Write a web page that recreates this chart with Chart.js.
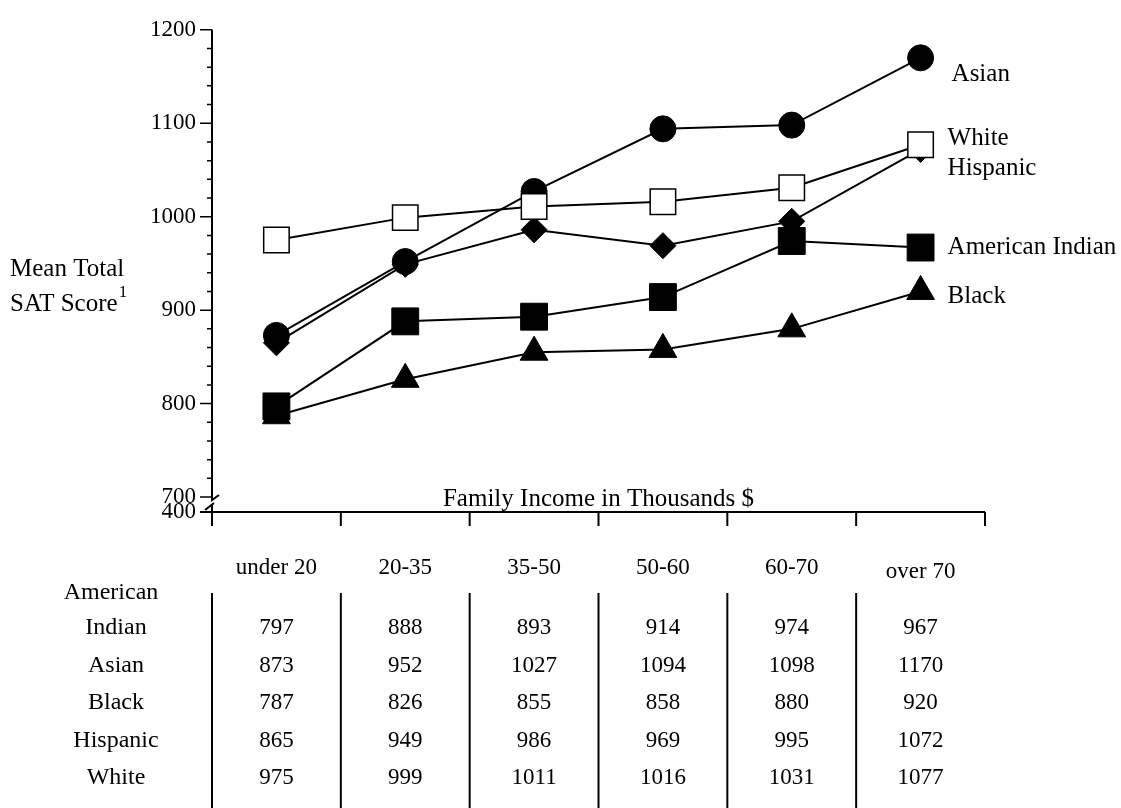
<!DOCTYPE html>
<html>
<head>
<meta charset="utf-8">
<script src="https://cdn.jsdelivr.net/npm/chart.js@4/dist/chart.umd.min.js"></script>
<style>
  html, body { margin: 0; padding: 0; background: #fff; }
  #wrap { width: 1121px; height: 808px; }
</style>
</head>
<body>
<div id="wrap"><canvas id="myChart" width="1121" height="808"></canvas></div>
<script>
// income brackets (x categories)
const categories = ['under 20', '20-35', '35-50', '50-60', '60-70', 'over 70'];

// mean total SAT score per group
const americanIndian = [797, 888, 893, 914, 974, 967];
const asian = [873, 952, 1027, 1094, 1098, 1170];
const black = [787, 826, 855, 858, 880, 920];
const hispanic = [865, 949, 986, 969, 995, 1072];
const white = [975, 999, 1011, 1016, 1031, 1077];

// y axis labels, plus the "400" shown below the axis break
const yMajorTicks = [700, 800, 900, 1000, 1100, 1200];
const yBreakLabel = '400';

// table row labels (American Indian wraps onto two lines)
const rowLabels = [['American', 'Indian'], ['Asian'], ['Black'], ['Hispanic'], ['White']];
const rowValues = [americanIndian, asian, black, hispanic, white];

const FONT = "'Liberation Serif', 'Times New Roman', serif";
const yMin = 684; // lets the broken baseline sit a little under 700

function font(size) { return size + 'px ' + FONT; }

const decor = {
  id: 'decor',
  afterDraw(chart) {
    const ctx = chart.ctx;
    const xs = chart.scales.x;
    const ys = chart.scales.y;
    const left = chart.chartArea.left;
    const right = chart.chartArea.right;
    const base = chart.chartArea.bottom;
    const band = xs.getPixelForValue(1) - xs.getPixelForValue(0);
    const firstEdge = xs.getPixelForValue(0) - band / 2;

    ctx.save();
    ctx.strokeStyle = '#000';
    ctx.fillStyle = '#000';
    ctx.lineWidth = 2;

    // y axis, broken just under 700
    const y700 = ys.getPixelForValue(700);
    ctx.beginPath();
    ctx.moveTo(left, ys.getPixelForValue(1200));
    ctx.lineTo(left, y700 + 3);
    ctx.lineTo(left + 7, y700 - 2);
    ctx.moveTo(left - 7, base - 2);
    ctx.lineTo(left + 2, base - 9);
    ctx.moveTo(left, base - 7);
    ctx.lineTo(left, base + 14);
    ctx.stroke();

    // y ticks: long every 100, short every 20
    ctx.lineWidth = 1.5;
    ctx.beginPath();
    for (let v = 700; v <= 1200; v += 20) {
      const y = ys.getPixelForValue(v);
      const len = v % 100 === 0 ? 12 : 5;
      ctx.moveTo(left - len, y);
      ctx.lineTo(left, y);
    }
    ctx.stroke();

    // x axis at the "400" line, ticks down at bracket edges
    ctx.lineWidth = 2;
    ctx.beginPath();
    ctx.moveTo(left - 12, base);
    ctx.lineTo(right, base);
    for (let i = 0; i <= categories.length; i++) {
      const x = firstEdge + i * band;
      ctx.moveTo(x, base);
      ctx.lineTo(x, base + 14);
    }
    ctx.stroke();

    ctx.textBaseline = 'middle';

    // x axis title sits above the baseline
    ctx.font = font(25);
    ctx.textAlign = 'center';
    ctx.fillText('Family Income in Thousands $', (left + right) / 2, base - 13);

    // y axis title with superscript
    ctx.textAlign = 'left';
    ctx.fillText('Mean Total', 10, 269);
    ctx.fillText('SAT Score', 10, 304);
    const w = ctx.measureText('SAT Score').width;
    ctx.font = font(17);
    ctx.fillText('1', 10 + w + 1, 293);

    // labels at line ends
    ctx.font = font(25);
    const endLabels = [
      { text: ['Asian'], data: asian, dx: 31, dy: 17 },
      { text: ['White', 'Hispanic'], data: white, dx: 27, dy: -6 },
      { text: ['American Indian'], data: americanIndian, dx: 27, dy: 0 },
      { text: ['Black'], data: black, dx: 27, dy: 5 }
    ];
    const last = categories.length - 1;
    endLabels.forEach(l => {
      const x = xs.getPixelForValue(last) + l.dx;
      const y = ys.getPixelForValue(l.data[last]) + l.dy;
      l.text.forEach((t, k) => ctx.fillText(t, x, y + k * 30));
    });

    // data table under the chart
    ctx.textAlign = 'center';
    ctx.font = font(23);
    const headY = base + 56;
    categories.forEach((c, i) => {
      ctx.fillText(c, xs.getPixelForValue(i), headY + (i === last ? 4 : 0));
    });
    const rowY0 = base + 116;
    const rowH = 37.5;
    rowLabels.forEach((lab, r) => {
      const y = rowY0 + r * rowH;
      ctx.font = font(24);
      if (lab.length > 1) {
        ctx.fillText(lab[0], 111, y - rowH + 2);
        ctx.fillText(lab[1], 116, y);
      } else {
        ctx.fillText(lab[0], 116, y);
      }
      ctx.font = font(23);
      rowValues[r].forEach((v, i) => {
        ctx.fillText(String(v), xs.getPixelForValue(i), y);
      });
    });
    ctx.lineWidth = 2;
    ctx.beginPath();
    for (let i = 0; i < categories.length; i++) {
      const x = firstEdge + i * band;
      ctx.moveTo(x, base + 81);
      ctx.lineTo(x, 808);
    }
    ctx.stroke();
    ctx.restore();
  }
};

const common = {
  borderColor: '#000',
  borderWidth: 2,
  pointBorderColor: '#000',
  pointBackgroundColor: '#000',
  pointBorderWidth: 1,
  pointHoverRadius: 0,
  clip: false
};

const ctx = document.getElementById('myChart').getContext('2d');
const myChart = new Chart(ctx, {
  type: 'line',
  data: {
    labels: categories,
    datasets: [
      Object.assign({}, common, { label: 'White', data: white, pointStyle: 'rect', pointRadius: 18,
        pointBackgroundColor: '#fff', pointBorderWidth: 1.5 }),
      Object.assign({}, common, { label: 'Asian', data: asian, pointStyle: 'circle', pointRadius: 13 }),
      Object.assign({}, common, { label: 'American Indian', data: americanIndian, pointStyle: 'rect', pointRadius: 19 }),
      Object.assign({}, common, { label: 'Hispanic', data: hispanic, pointStyle: 'rectRot', pointRadius: 13 }),
      Object.assign({}, common, { label: 'Black', data: black, pointStyle: 'triangle', pointRadius: 16 })
    ]
  },
  options: {
    responsive: false,
    animation: false,
    events: [],
    layout: { padding: { left: 0, right: 136, top: 22, bottom: 0 } },
    plugins: { legend: { display: false }, tooltip: { enabled: false } },
    scales: {
      x: {
        offset: true,
        grid: { display: false },
        border: { display: false },
        ticks: { display: false },
        afterFit(scale) { scale.height = 808 - 512; }
      },
      y: {
        min: yMin,
        max: 1200,
        grid: { display: false, drawTicks: false },
        border: { display: false },
        afterBuildTicks(scale) {
          scale.ticks = [{ value: yMin }].concat(yMajorTicks.map(v => ({ value: v })));
        },
        ticks: {
          autoSkip: false,
          padding: 16,
          color: '#000',
          font: { family: FONT, size: 23 },
          callback: (v) => v === yMin ? yBreakLabel : String(v)
        },
        afterFit(scale) { scale.width = 212; }
      }
    }
  },
  plugins: [decor]
});
</script>
</body>
</html>
